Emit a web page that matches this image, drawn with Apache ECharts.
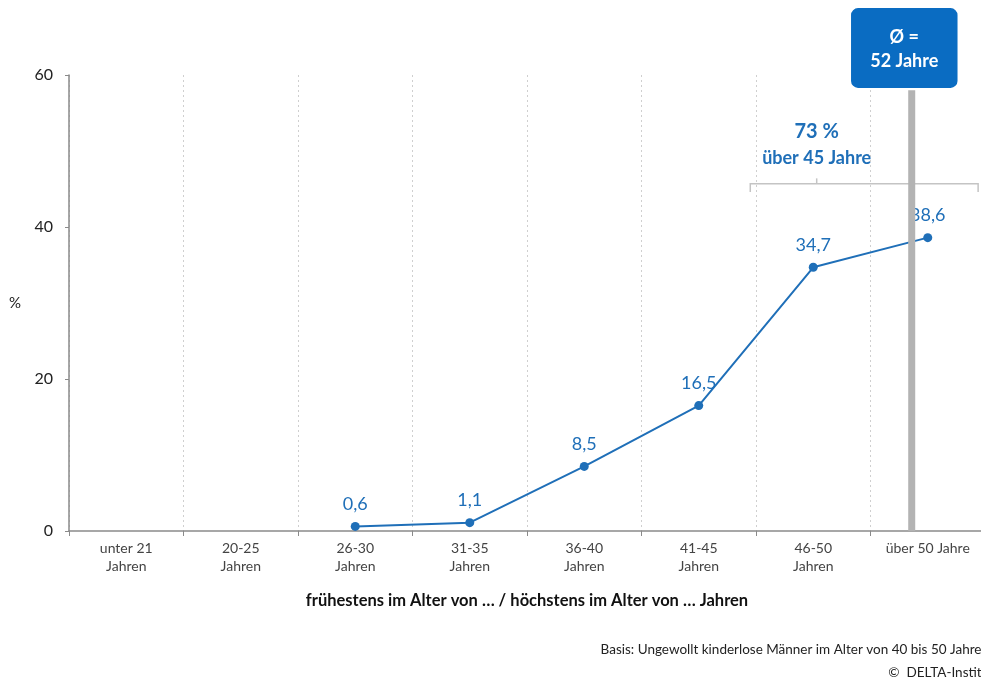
<!DOCTYPE html>
<html><head><meta charset="utf-8">
<script src="https://cdn.jsdelivr.net/npm/echarts@6/dist/echarts.min.js"></script>
<style>html,body{margin:0;padding:0;background:#fff;overflow:hidden}#c{width:1000px;height:679px}</style>
</head><body><div id="c"></div>
<script>
const categories = ['unter 21\nJahren','20-25\nJahren','26-30\nJahren','31-35\nJahren','36-40\nJahren','41-45\nJahren','46-50\nJahren','über 50 Jahre'];
const values = [null, null, 0.6, 1.1, 8.5, 16.5, 34.7, 38.6];
const labels = ['', '', '0,6', '1,1', '8,5', '16,5', '34,7', '38,6'];
const yTicks = [0, 20, 40, 60];
// annotation positions in category-index units (0..8) and value units
const avgPos = [7.36];          // Ø 52 Jahre
const avgBarTop = [58];
const avgBox = [6.83, 7.76, 58.3, 68.8];
const bracket = [5.95, 7.94, 45.7, 44.6, 6.53, 46.4];
const bracketText = ['73 %', 'über 45 Jahre'];
const bracketTextY = [52.6, 49.1];

const BLUE = '#1f6fb8';
const FONT = 'Lato, "Open Sans", sans-serif';
const chart = echarts.init(document.getElementById('c'));
chart.setOption({
  animation: false,
  textStyle: { fontFamily: FONT },
  grid: { left: 69, top: 75, height: 456, width: 916, containLabel: false },
  xAxis: [{
    type: 'category', data: categories, boundaryGap: true,
    name: 'frühestens im Alter von … / höchstens im Alter von … Jahren',
    nameLocation: 'middle', nameGap: 61,
    nameTextStyle: { fontSize: 16.5, fontWeight: 'bold', color: '#111', fontFamily: FONT },
    axisLine: { lineStyle: { color: '#8a8a8a', width: 1.5 } },
    axisTick: { show: true, alignWithLabel: false, length: 5, lineStyle: { color: '#8a8a8a' } },
    axisLabel: { fontSize: 14, color: '#444', lineHeight: 18, margin: 8, fontFamily: FONT, interval: 0 },
    splitLine: { show: true, lineStyle: { color: '#cfcfcf', type: [2, 3], width: 1 } }
  }, {
    type: 'value', min: 0, max: 8, show: false
  }],
  yAxis: {
    type: 'value', min: yTicks[0], max: yTicks[yTicks.length - 1], interval: 20,
    name: '%', nameLocation: 'middle', nameRotate: 0, nameGap: 48,
    nameTextStyle: { fontSize: 15, color: '#222', fontFamily: FONT, padding: [8, 0, 0, 0] },
    axisLine: { show: true, lineStyle: { color: '#8a8a8a', width: 1.5 } },
    axisTick: { show: true, length: 4, lineStyle: { color: '#8a8a8a' } },
    axisLabel: { fontSize: 16, color: '#222', margin: 16, fontFamily: FONT },
    splitLine: { show: false }
  },
  series: [{
    type: 'line', xAxisIndex: 0, data: values,
    symbol: 'circle', symbolSize: 9,
    lineStyle: { color: BLUE, width: 2 },
    itemStyle: { color: BLUE },
    label: {
      show: true, position: 'top', distance: 9, fontSize: 18, color: BLUE, fontFamily: FONT,
      formatter: p => labels[p.dataIndex]
    },
    z: 3
  }]
});

function px(x, y) { return chart.convertToPixel({ xAxisIndex: 1, yAxisIndex: 0 }, [x, y]); }
const barTop = px(avgPos[0], avgBarTop[0]);
const barBot = px(avgPos[0], 0);
const b1 = px(avgBox[0], avgBox[3]);
const b2 = px(avgBox[1], avgBox[2]);
const bl = px(bracket[0], bracket[2]);
const br = px(bracket[1], bracket[2]);
const blEnd = px(bracket[0], bracket[3]);
const bc = px(bracket[4], bracket[2]);
const bcTop = px(bracket[4], bracket[5]);
const t1 = px(bracket[4], bracketTextY[0]);
const t2 = px(bracket[4], bracketTextY[1]);
const GRAY = '#c4c4c4';
chart.setOption({
  graphic: [
    { type: 'rect', z: 100, shape: { x: barTop[0] - 3.5, y: barTop[1], width: 7, height: barBot[1] - barTop[1] }, style: { fill: '#b3b3b3' } },
    { type: 'rect', z: 101, shape: { x: b1[0], y: b1[1], width: b2[0] - b1[0], height: b2[1] - b1[1], r: 7 }, style: { fill: '#0a6cc2' } },
    { type: 'text', z: 102, style: { x: (b1[0] + b2[0]) / 2, y: b1[1] + 29, text: 'Ø =', fill: '#fff', fontSize: 18, fontWeight: 'bold', fontFamily: FONT, align: 'center', verticalAlign: 'middle' } },
    { type: 'text', z: 102, style: { x: (b1[0] + b2[0]) / 2, y: b1[1] + 53, text: '52 Jahre', fill: '#fff', fontSize: 18, fontWeight: 'bold', fontFamily: FONT, align: 'center', verticalAlign: 'middle' } },
    { type: 'polyline', z: 50, shape: { points: [[blEnd[0], blEnd[1]], [bl[0], bl[1]], [br[0], br[1]], [br[0], blEnd[1]]] }, style: { stroke: GRAY, lineWidth: 1.5, fill: null } },
    { type: 'line', z: 50, shape: { x1: bc[0], y1: bc[1], x2: bcTop[0], y2: bcTop[1] }, style: { stroke: GRAY, lineWidth: 1.5 } },
    { type: 'text', z: 50, style: { x: t1[0], y: t1[1], text: bracketText[0], fill: BLUE, fontSize: 20, fontWeight: 'bold', fontFamily: FONT, align: 'center', verticalAlign: 'middle' } },
    { type: 'text', z: 50, style: { x: t2[0], y: t2[1], text: bracketText[1], fill: BLUE, fontSize: 18, fontWeight: 'bold', fontFamily: FONT, align: 'center', verticalAlign: 'middle' } },
    { type: 'text', z: 50, style: { x: 989, y: 650, text: 'Basis: Ungewollt kinderlose Männer im Alter von 40 bis 50 Jahren', fill: '#222', fontSize: 13.5, fontFamily: FONT, align: 'right', verticalAlign: 'middle' } },
    { type: 'text', z: 50, style: { x: 994, y: 673, text: '©  DELTA-Institut', fill: '#222', fontSize: 13.5, fontFamily: FONT, align: 'right', verticalAlign: 'middle' } }
  ]
});
</script>
</body></html>
